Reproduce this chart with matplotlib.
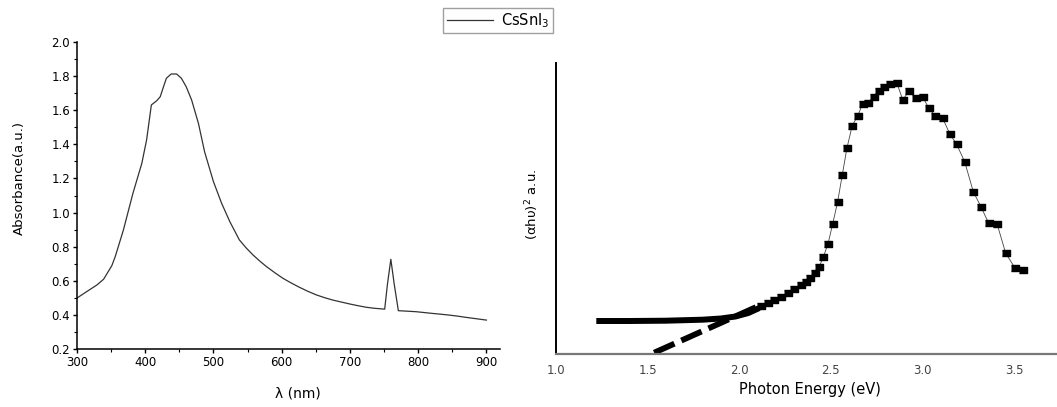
import numpy as np
import matplotlib
matplotlib.use("Agg")
import matplotlib.pyplot as plt
from matplotlib.ticker import MultipleLocator

plt.rcParams['font.family'] = ['DejaVu Sans']

# absorbance spectrum (left panel)
wavelength = [300, 314, 329, 339, 351, 356, 368, 382, 395, 402, 409, 417, 422, 426,
              431, 438, 446, 453, 460, 468, 478, 487, 500, 512, 524, 538, 548, 558, 568,
              578, 590, 602, 614, 626, 638, 651, 663, 675, 688, 700, 712, 724, 736, 748,
              751, 755, 760, 765, 771, 784, 797, 809, 821, 834, 846, 858, 870, 885, 900]
absorbance = [0.50, 0.537, 0.576, 0.61, 0.689, 0.742, 0.898, 1.113, 1.288, 1.425, 1.63,
              1.655, 1.678, 1.727, 1.786, 1.811, 1.811, 1.786, 1.737, 1.659, 1.522,
              1.356, 1.181, 1.054, 0.947, 0.84, 0.793, 0.752, 0.716, 0.683, 0.648,
              0.615, 0.588, 0.563, 0.540, 0.518, 0.502, 0.488, 0.476, 0.465, 0.455,
              0.446, 0.440, 0.436, 0.435, 0.58, 0.727, 0.58, 0.426, 0.423, 0.42, 0.415,
              0.41, 0.405, 0.40, 0.394, 0.387, 0.379, 0.371]

# Tauc plot (right panel)
energy_low = [1.22, 1.4, 1.6, 1.8, 1.9, 1.98, 2.05, 2.11]
tauc_low = [33, 33, 33.3, 34.3, 35.5, 37.5, 41, 46]
energy = [2.12, 2.155, 2.19, 2.23, 2.265, 2.30, 2.34, 2.365, 2.386, 2.413, 2.437, 2.459,
          2.485, 2.51, 2.537, 2.563, 2.588, 2.617, 2.647, 2.674, 2.701, 2.734, 2.761,
          2.792, 2.825, 2.86, 2.893, 2.929, 2.966, 3.002, 3.035, 3.071, 3.111, 3.151,
          3.187, 3.231, 3.278, 3.32, 3.362, 3.408, 3.455, 3.505, 3.552]
tauc = [48, 51, 54, 57.5, 61, 65, 69, 72, 75.7, 80.7, 87.3, 96.7, 110.3, 129.7, 151.7,
        179.3, 205.7, 228.3, 238.3, 250, 250.7, 257.3, 263.3, 267.3, 269.7, 271.3,
        254.3, 263.3, 255.7, 257.3, 245.7, 238, 235.7, 219.7, 209.7, 192.3, 162.3,
        147.3, 130.7, 130, 100.7, 86.3, 84]
fit_energy = [1.536, 2.118]
fit_tauc = [1.3, 49]

fig = plt.figure(figsize=(10.57, 4.07), dpi=100)
W, H = 1057, 407

# ---- left panel
ax1 = fig.add_axes([77 / W, 1 - 349.3 / H, 423 / W, 307.6 / H])
line, = ax1.plot(wavelength, absorbance, color='#333333', lw=0.9, label=r'CsSnI$_3$')
ax1.set_xlim(300, 920)
ax1.set_ylim(0.2, 2.0)
ax1.xaxis.set_major_locator(MultipleLocator(100))
ax1.xaxis.set_minor_locator(MultipleLocator(50))
ax1.yaxis.set_major_locator(MultipleLocator(0.2))
ax1.yaxis.set_minor_locator(MultipleLocator(0.1))
ax1.set_xticks([300, 400, 500, 600, 700, 800, 900])
ax1.yaxis.set_major_formatter(matplotlib.ticker.FormatStrFormatter('%.1f'))
for s in ['top', 'right']:
    ax1.spines[s].set_visible(False)
for s in ['left', 'bottom']:
    ax1.spines[s].set_linewidth(1.1)
ax1.tick_params(which='major', direction='out', length=3, width=1, labelsize=8.5, pad=2)
ax1.tick_params(which='minor', direction='out', length=2, width=0.8)
ax1.set_ylabel('Absorbance(a.u.)', fontsize=9.5)
ax1.set_xlabel('λ (nm)', fontsize=10)
ax1.yaxis.set_label_coords(-0.122, 0.558)
ax1.xaxis.set_label_coords(0.522, -0.12)

fig.legend(handles=[line], loc='center', bbox_to_anchor=(498 / W, 1 - 20.5 / H),
           fontsize=10.5, frameon=True, fancybox=False, edgecolor='#888888',
           handlelength=3.2, handletextpad=0.5, borderpad=0.25, borderaxespad=0)

# ---- right panel
ax2 = fig.add_axes([556 / W, 1 - 354 / H, 501 / W, 290.7 / H])
ax2.plot(energy_low, tauc_low, color='black', lw=4.3, solid_capstyle='butt')
rect = [(-1, -0.65), (1, -0.65), (1, 0.65), (-1, 0.65)]
ax2.plot(energy, tauc, color='#444444', lw=0.6, marker=rect, markersize=6,
         markerfacecolor='black', markeredgecolor='black')
ax2.plot(fit_energy, fit_tauc, color='black', lw=4.2, dashes=(3.8, 1.3),
         solid_capstyle='butt')
ax2.set_xlim(1.0, 3.735)
ax2.set_ylim(0, 290.7)
ax2.set_xticks([1.0, 1.5, 2.0, 2.5, 3.0, 3.5])
ax2.set_yticks([])
for s in ['top', 'right']:
    ax2.spines[s].set_visible(False)
ax2.spines['left'].set_linewidth(1.4)
ax2.spines['bottom'].set_linewidth(1.6)
ax2.spines['bottom'].set_color('#777777')
ax2.tick_params(axis='x', length=0, labelsize=8.5, labelcolor='#444444', pad=7)
ax2.set_xlabel('Photon Energy (eV)', fontsize=10.5)
ax2.set_ylabel(r'(αhυ)$^2$ a.u.', fontsize=9.5)
ax2.yaxis.set_label_coords(-0.03, 0.513)
ax2.xaxis.set_label_coords(0.507, -0.095)

fig.savefig('out.png', dpi=100)
